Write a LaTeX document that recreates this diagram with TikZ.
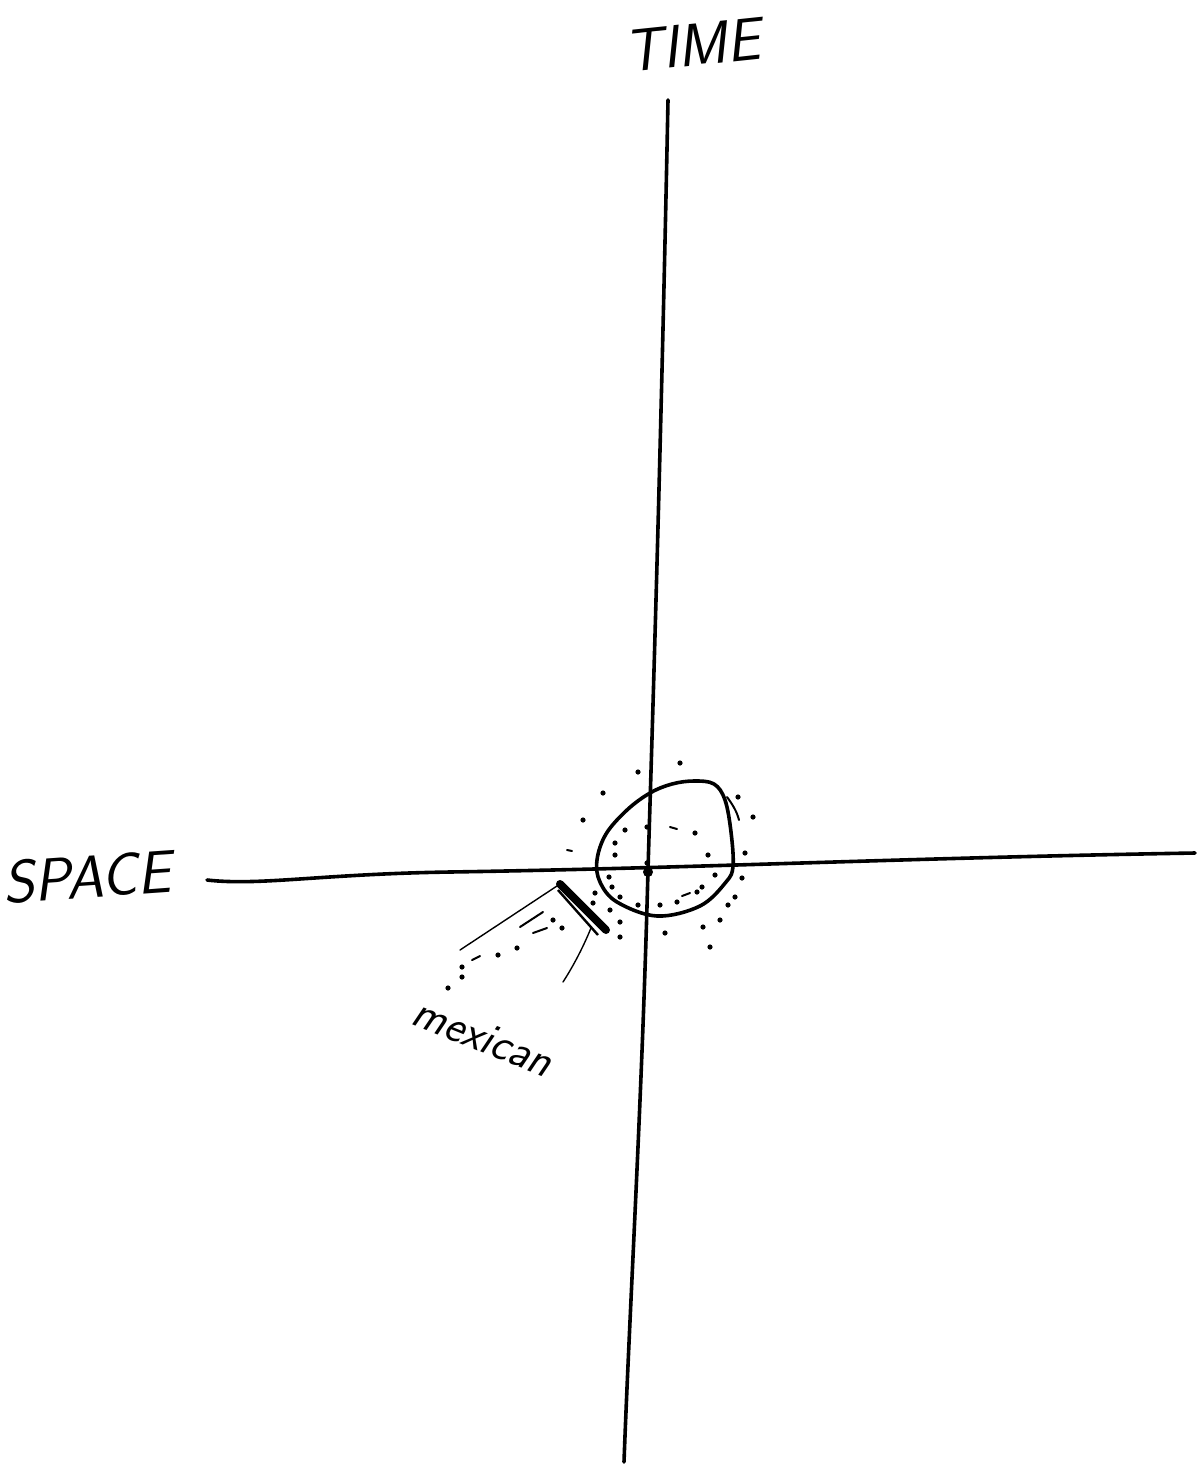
\documentclass[tikz,border=0pt]{standalone}
\usepackage{tikz}
\begin{document}
\begin{tikzpicture}[x=0.5pt,y=-0.5pt,
  ink/.style={line width=1.8pt,line cap=round,line join=round},
  thin ink/.style={line width=0.7pt,line cap=round},
  hand/.style={font=\sffamily\slshape}]
\useasboundingbox (0,0) rectangle (1198,1469);
% axes
\coordinate (ttop) at (668,100);
\coordinate (tbot) at (624,1462);
\coordinate (sleft) at (207,880);
\coordinate (sright) at (1195,853);
\draw[ink] (ttop) .. controls (660,500) and (650,800) .. (648,870) .. controls (642,1100) and (630,1300) .. (tbot);
\draw[ink] (sleft) .. controls (260,886) and (320,874) .. (450,872) .. controls (700,868) and (900,858) .. (sright);
% loop
\draw[ink] plot[smooth cycle,tension=0.6] coordinates {(725,800) (731,832) (733,866) (726,882) (700,906) (657,916) (617,902) (600,882) (597,860) (606,834) (627,810) (650,793) (672,784) (694,781) (714,784)};
\draw[thin ink,line width=1pt] (727,797) .. controls (733,805) and (737,812) .. (739,820);
% dots around
\foreach \p in {(680,763),(638,772),(603,793),(583,820),(738,797),(753,817),(745,853),(742,878),(735,897),(728,905),(720,920),(703,927),(710,947),(665,933),(620,922),(620,937),(625,830),(647,827),(695,833),(708,855),(715,875),(702,887),(697,892),(677,902),(660,905),(638,905),(615,843),(615,855),(647,863),(609,877),(612,887),(595,893),(593,903),(620,897),(610,910),(553,920),(562,928),(517,948),(498,955),(462,967),(462,977),(448,988)}
  \fill \p circle[radius=2.6];
\coordinate (center) at (648,872);
\fill (center) circle[radius=5];
% small dashes
\draw[thin ink,line width=1pt] (567,850) -- (572,851);
\draw[thin ink,line width=1pt] (670,827) -- (677,829);
\draw[thin ink,line width=1pt] (682,896) -- (690,893);
\draw[thin ink,line width=1pt] (543,912) -- (520,927);
\draw[thin ink,line width=1pt] (533,933) -- (547,928);
\draw[thin ink,line width=1pt] (472,960) -- (480,956);
% wedge pointer
\coordinate (wa) at (560,884);
\coordinate (wb) at (606,930);
\draw[line width=4pt,line cap=round] (wa) -- (wb);
\draw[line width=1.2pt] (558,890) -- (598,935);
% thin lines from pointer
\coordinate (l1) at (460,950);
\coordinate (l2) at (563,982);
\draw[thin ink] (wa) -- (l1);
\draw[thin ink] (591,928) .. controls (582,950) and (572,968) .. (l2);
% labels
\node[hand,font=\sffamily\slshape\fontsize{30}{30}\selectfont,rotate=6] (time) at (692,45) {TIME};
\node[hand,font=\sffamily\slshape\fontsize{30}{30}\selectfont,rotate=4] (space) at (87,877) {SPACE};
\node[hand,font=\sffamily\slshape\fontsize{23}{23}\selectfont,rotate=-22] (mex) at (483,1037) {mexican};
\end{tikzpicture}
\end{document}
